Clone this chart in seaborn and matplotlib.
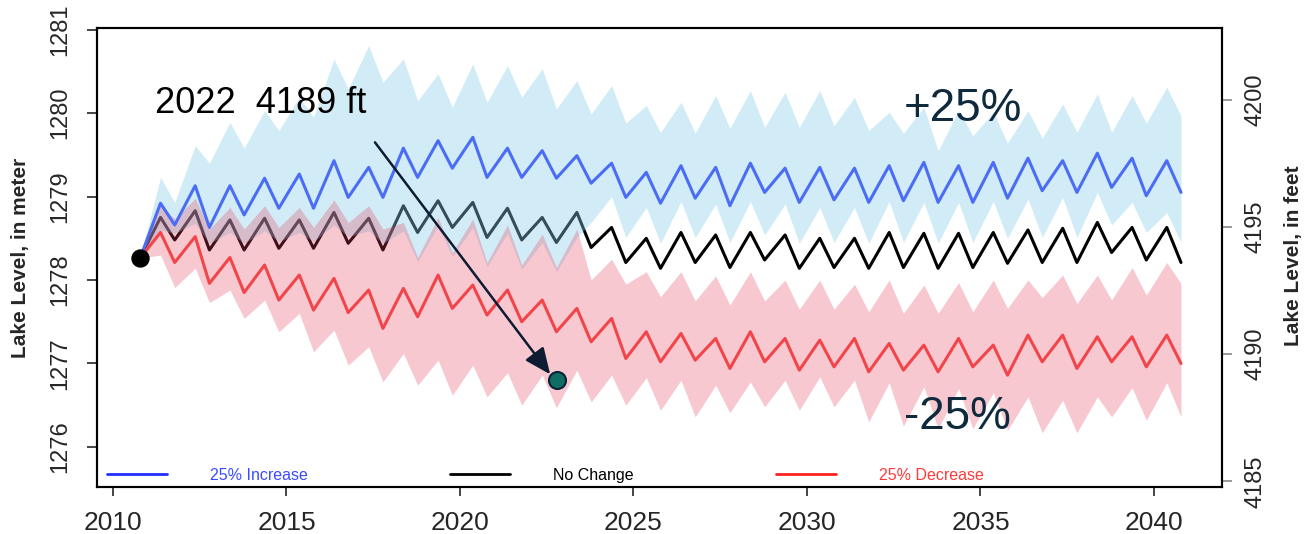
import matplotlib
matplotlib.use("Agg")
import matplotlib.pyplot as plt
from matplotlib.lines import Line2D
import seaborn as sns
import pandas as pd

# season of the yearly high (spring) and low (autumn) water levels
start_year = 2010.78
start_level = 1278.26
years = list(range(2011, 2041))
peak_offset = 0.37
trough_offset = 0.78

# lake level in meters: yearly highs and lows
blue_peak = [1278.92, 1279.13, 1279.13, 1279.22, 1279.27, 1279.43, 1279.35, 1279.58, 1279.67, 1279.71,
             1279.58, 1279.55, 1279.49, 1279.40, 1279.29, 1279.37, 1279.35, 1279.40, 1279.34, 1279.35,
             1279.34, 1279.37, 1279.41, 1279.37, 1279.41, 1279.46, 1279.43, 1279.52, 1279.46, 1279.43]
blue_trough = [1278.66, 1278.63, 1278.78, 1278.86, 1278.86, 1278.99, 1278.99, 1279.23, 1279.34, 1279.23,
               1279.23, 1279.22, 1279.16, 1278.99, 1278.92, 1278.98, 1278.89, 1279.05, 1278.93, 1278.96,
               1278.93, 1278.95, 1278.93, 1278.93, 1278.98, 1279.07, 1279.05, 1279.11, 1279.01, 1279.05]

black_peak = [1278.75, 1278.83, 1278.72, 1278.74, 1278.72, 1278.81, 1278.74, 1278.89, 1278.95, 1278.93,
              1278.86, 1278.75, 1278.81, 1278.63, 1278.50, 1278.57, 1278.54, 1278.57, 1278.54, 1278.50,
              1278.50, 1278.57, 1278.56, 1278.56, 1278.57, 1278.60, 1278.62, 1278.69, 1278.63, 1278.63]
black_trough = [1278.48, 1278.36, 1278.36, 1278.38, 1278.38, 1278.44, 1278.36, 1278.57, 1278.63, 1278.51,
                1278.48, 1278.45, 1278.39, 1278.21, 1278.14, 1278.21, 1278.15, 1278.24, 1278.14, 1278.15,
                1278.14, 1278.15, 1278.14, 1278.15, 1278.20, 1278.21, 1278.21, 1278.33, 1278.24, 1278.21]

red_peak = [1278.57, 1278.52, 1278.27, 1278.18, 1278.06, 1278.02, 1277.88, 1277.90, 1278.06, 1277.94,
            1277.88, 1277.76, 1277.66, 1277.54, 1277.38, 1277.36, 1277.30, 1277.38, 1277.30, 1277.28,
            1277.30, 1277.24, 1277.22, 1277.30, 1277.22, 1277.34, 1277.34, 1277.32, 1277.32, 1277.34]
red_trough = [1278.21, 1277.96, 1277.85, 1277.76, 1277.64, 1277.61, 1277.42, 1277.56, 1277.66, 1277.58,
              1277.50, 1277.38, 1277.26, 1277.06, 1277.02, 1277.04, 1276.94, 1277.02, 1276.92, 1276.96,
              1276.90, 1276.92, 1276.90, 1276.96, 1276.86, 1277.02, 1276.94, 1277.02, 1276.96, 1277.00]

# +25% range (light blue band)
inc_hi_peak = [1279.23, 1279.61, 1279.89, 1280.03, 1280.19, 1280.65, 1280.81, 1280.65, 1280.47, 1280.59,
               1280.57, 1280.53, 1280.39, 1280.33, 1280.09, 1280.13, 1280.21, 1280.27, 1280.25, 1280.27,
               1280.19, 1280.01, 1280.07, 1280.03, 1280.01, 1280.03, 1280.11, 1280.23, 1280.21, 1280.31]
inc_hi_trough = [1278.93, 1279.40, 1279.58, 1279.79, 1279.95, 1280.29, 1280.37, 1280.15, 1280.07, 1280.13,
                 1280.19, 1280.05, 1279.99, 1279.88, 1279.77, 1279.76, 1279.82, 1279.83, 1279.83, 1279.85,
                 1279.79, 1279.76, 1279.55, 1279.73, 1279.64, 1279.70, 1279.77, 1279.77, 1279.88, 1279.97]
inc_lo_peak = [1278.60, 1278.68, 1278.57, 1278.59, 1278.57, 1278.66, 1278.59, 1278.59, 1278.65, 1278.63,
               1278.56, 1278.45, 1278.51, 1279.00, 1278.87, 1278.94, 1278.91, 1278.94, 1278.91, 1278.87,
               1278.87, 1278.94, 1278.93, 1278.93, 1278.94, 1278.97, 1278.99, 1279.05, 1278.93, 1278.81]
inc_lo_trough = [1278.56, 1278.44, 1278.44, 1278.46, 1278.46, 1278.52, 1278.44, 1278.22, 1278.28, 1278.16,
                 1278.13, 1278.10, 1278.69, 1278.51, 1278.44, 1278.51, 1278.45, 1278.54, 1278.44, 1278.45,
                 1278.44, 1278.45, 1278.44, 1278.45, 1278.50, 1278.51, 1278.51, 1278.66, 1278.57, 1278.45]

# -25% range (pink band)
dec_hi_peak = [1278.90, 1278.98, 1278.87, 1278.89, 1278.87, 1278.96, 1278.89, 1278.69, 1278.75, 1278.73,
               1278.66, 1278.55, 1278.61, 1278.25, 1278.10, 1278.10, 1278.05, 1278.10, 1278.00, 1278.00,
               1277.95, 1278.00, 1277.94, 1277.97, 1278.00, 1278.00, 1278.06, 1278.06, 1278.15, 1278.21]
dec_hi_trough = [1278.73, 1278.61, 1278.61, 1278.63, 1278.63, 1278.69, 1278.61, 1278.27, 1278.33, 1278.21,
                 1278.18, 1278.15, 1278.00, 1277.95, 1277.80, 1277.75, 1277.70, 1277.75, 1277.65, 1277.65,
                 1277.62, 1277.60, 1277.60, 1277.62, 1277.66, 1277.79, 1277.72, 1277.76, 1277.82, 1277.96]
dec_lo_peak = [1278.30, 1278.14, 1277.88, 1277.76, 1277.60, 1277.40, 1277.20, 1277.12, 1277.04, 1276.98,
               1276.89, 1276.86, 1276.92, 1276.86, 1276.83, 1276.80, 1276.74, 1276.78, 1276.80, 1276.84,
               1276.80, 1276.77, 1276.72, 1276.70, 1276.65, 1276.60, 1276.56, 1276.60, 1276.71, 1276.77]
dec_lo_trough = [1277.91, 1277.73, 1277.54, 1277.38, 1277.14, 1276.98, 1276.78, 1276.74, 1276.62, 1276.60,
                 1276.50, 1276.47, 1276.54, 1276.50, 1276.44, 1276.36, 1276.41, 1276.48, 1276.44, 1276.48,
                 1276.30, 1276.25, 1276.22, 1276.22, 1276.20, 1276.17, 1276.17, 1276.36, 1276.32, 1276.36]

point_year = 2022.8
point_ft = 4189
FT = 0.3048

scenarios = ["25% Increase", "No Change", "25% Decrease"]


def weave(peaks, troughs):
    vals = [start_level]
    for p, tr in zip(peaks, troughs):
        vals += [p, tr]
    return vals


t = [start_year] + [y + d for y in years for d in (peak_offset, trough_offset)]

lines = pd.DataFrame({
    "year": t * 3,
    "level": weave(blue_peak, blue_trough) + weave(black_peak, black_trough) + weave(red_peak, red_trough),
    "scenario": [s for s in scenarios for _ in t],
})

sns.set_style("ticks")
plt.rcParams["font.family"] = ["Liberation Sans", "DejaVu Sans"]

fig = plt.figure(figsize=(13.09, 5.34), dpi=100)
ax = fig.add_axes([0.0741, 0.088, 0.8594, 0.8596])

# black line goes under the bands, blue/red on top
sns.lineplot(data=lines[lines.scenario == "No Change"], x="year", y="level", color="black",
             lw=2.2, estimator=None, zorder=1, solid_joinstyle="round", ax=ax)
ax.fill_between(t, weave(inc_lo_peak, inc_lo_trough), weave(inc_hi_peak, inc_hi_trough),
                color="#87ceeb", alpha=0.38, lw=0, zorder=2)
ax.fill_between(t, weave(dec_lo_peak, dec_lo_trough), weave(dec_hi_peak, dec_hi_trough),
                color="#e63c5a", alpha=0.28, lw=0, zorder=2)
sns.lineplot(data=lines[lines.scenario == "25% Increase"], x="year", y="level", color="#4b6cf5",
             lw=2.2, estimator=None, zorder=3, solid_joinstyle="round", ax=ax)
sns.lineplot(data=lines[lines.scenario == "25% Decrease"], x="year", y="level", color="#f2454a",
             lw=2.2, estimator=None, zorder=3, solid_joinstyle="round", ax=ax)

sns.scatterplot(x=[start_year], y=[start_level], color="black", s=150, edgecolor="black",
                zorder=5, ax=ax)
sns.scatterplot(x=[point_year], y=[point_ft * FT], color="#0e6e64", s=150, edgecolor="#0b2236",
                linewidth=1.5, zorder=6, ax=ax)

ax.annotate("", xy=(2022.6, 1276.87), xytext=(2017.55, 1279.65),
            arrowprops=dict(arrowstyle="-|>,head_length=0.8,head_width=0.35", color="#0d1b33",
                            lw=1.8, mutation_scale=20, shrinkA=0, shrinkB=0), zorder=6)
ax.text(2011.2, 1280.11, "2022  4189 ft", fontsize=26, color="black", va="center", ha="left", zorder=6)
ax.text(2032.8, 1280.05, "+25%", fontsize=33, color="#0f2a3d", va="center", ha="left", zorder=6)
ax.text(2032.8, 1276.36, "-25%", fontsize=33, color="#0f2a3d", va="center", ha="left", zorder=6)

ax.set_xlim(2009.54, 2041.96)
ylo, yhi = 1275.52, 1281.02
ax.set_ylim(ylo, yhi)
ax.set_xticks(range(2010, 2041, 5))
ax.set_yticks(range(1276, 1282))
ax.set_xlabel("")
ax.set_ylabel("Lake Level, in meter", fontsize=15, fontweight="bold")
ax.yaxis.set_label_coords(-0.0596, 0.5)
ax.tick_params(axis="x", labelsize=19, length=6.5, width=1.2, pad=11, direction="out")
ax.tick_params(axis="y", labelsize=17, length=7.5, width=1.2, pad=11, direction="out", labelrotation=90)
for lbl in ax.get_yticklabels():
    lbl.set_va("center")

for sp in ax.spines.values():
    sp.set_visible(True)
    sp.set_linewidth(1.5)
    sp.set_color("black")

ax2 = ax.twinx()
ax2.set_ylim(ylo / FT, yhi / FT)
ax2.set_yticks([4185, 4190, 4195, 4200])
ax2.tick_params(axis="y", labelsize=17, length=7.5, width=1.2, color="#888888", pad=9,
                direction="out", labelrotation=90)
for lbl in ax2.get_yticklabels():
    lbl.set_va("center")
ax2.set_ylabel("Lake Level, in feet", fontsize=15, fontweight="bold")
ax2.yaxis.set_label_coords(1.055, 0.505)
for sp in ax2.spines.values():
    sp.set_linewidth(1.5)
    sp.set_color("black")

handles = [Line2D([], [], color=c, lw=2) for c in ["#1f2fff", "black", "#ff2020"]]
leg = ax.legend(handles, scenarios, ncol=3, frameon=False, loc="center left",
                bbox_to_anchor=(0.009, 0.026), handlelength=3.75, handletextpad=2.7,
                columnspacing=8.9, fontsize=11.5, borderpad=0, borderaxespad=0)
for txt, c in zip(leg.get_texts(), ["#3a4cff", "black", "#ff3a3a"]):
    txt.set_color(c)

fig.savefig("out.png", dpi=100)
